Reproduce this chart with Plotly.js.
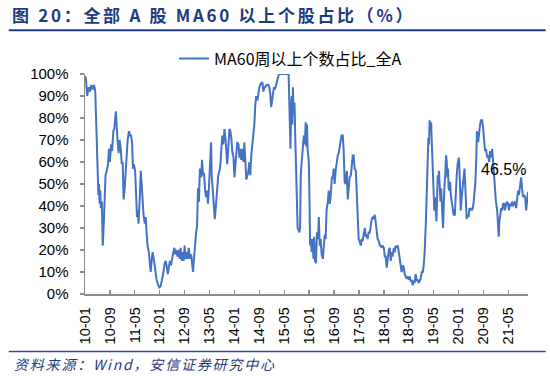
<!DOCTYPE html>
<html>
<head>
<meta charset="utf-8">
<script src="https://cdn.plot.ly/plotly-3.0.1.min.js"></script>
<style>
html,body{margin:0;padding:0;background:#fff;}
#chart{width:550px;height:376px;}
</style>
</head>
<body>
<div id="chart"></div>
<script>
var months = [
0,0.3,0.7,1.2,1.6,2.0,2.5,2.9,3.3,3.7,
4.1,4.3,4.5,4.7,4.9,5.1,5.4,5.7,6.0,6.3,
6.6,7.0,7.4,7.7,8.0,8.4,8.7,9.1,9.4,9.9,
10.2,10.5,10.8,11.1,11.5,11.8,12.1,12.4,12.7,13.1,
13.4,13.7,14.1,14.5,14.8,15.1,15.4,15.7,16.1,16.4,
16.7,17.0,17.2,17.6,17.9,18.2,18.5,18.8,19.2,19.5,
19.8,20.1,20.5,20.8,21.1,21.4,21.7,22.1,22.4,22.7,
23.0,23.5,23.9,24.3,24.7,25.2,25.6,25.9,26.2,26.6,
26.9,27.3,27.6,28.0,28.4,28.7,29.0,29.3,29.7,30.1,
30.4,30.7,31.1,31.4,31.7,32.0,32.3,32.7,33.0,33.3,
33.7,34.1,34.4,34.7,35.0,35.3,35.7,36.0,36.3,36.6,
36.9,37.3,37.6,37.9,38.2,38.6,38.9,39.2,39.5,39.8,
40.2,40.5,
40.7,41.2,41.7,42.1,42.5,42.8,43.2,43.5,43.8,44.1,
44.4,44.8,45.1,45.4,45.7,46.1,46.4,46.7,47.0,47.3,
47.7,48.0,48.3,48.6,48.9,49.3,49.6,49.9,50.2,50.5,
50.9,51.2,51.5,51.8,52.2,52.5,52.8,53.1,53.4,53.8,
54.1,54.4,54.7,55.0,55.4,55.7,56.0,56.3,56.7,57.0,
57.3,57.6,57.9,58.3,58.6,58.9,59.2,59.5,59.8,60.1,
60.4,60.7,61.0,61.4,61.7,62.0,62.3,62.9,63.7,64.8,
65.4,65.6,65.9,66.0,66.2,66.4,66.6,66.8,67.0,67.3,
67.6,67.9,68.1,68.3,68.6,68.9,69.1,69.3,69.6,69.9,
70.3,70.6,70.9,71.1,71.3,71.5,71.9,72.1,72.3,72.5,
72.8,73.0,73.4,73.6,73.9,74.2,74.5,74.9,75.1,75.4,
75.7,76.0,76.4,76.7,77.0,77.3,77.6,78.0,78.3,78.6,
78.9,79.3,79.6,79.9,80.2,80.5,80.9,81.2,81.5,
81.9,82.4,82.8,83.1,83.4,83.7,84.1,84.4,84.7,85.0,
85.4,85.7,86.0,86.3,86.6,87.0,87.3,87.6,87.9,88.2,
88.6,88.9,89.2,89.5,89.9,90.2,90.5,90.8,91.1,91.5,
91.8,92.1,92.4,92.7,93.1,93.4,93.7,94.0,94.4,94.7,
95.0,95.3,95.6,96.0,96.3,96.6,96.9,97.2,97.6,97.9,
98.2,98.5,98.8,99.2,99.5,99.8,100.1,100.5,100.8,101.1,
101.4,101.7,102.1,102.4,102.7,103.0,103.3,103.7,104.0,104.3,
104.6,105.0,105.3,105.6,105.9,106.2,106.6,106.9,107.2,107.5,
107.8,108.2,108.5,108.8,109.1,109.5,109.8,110.1,110.3,110.5,
110.7,110.9,111.2,111.4,111.6,111.8,112.0,112.2,112.4,112.7,
112.9,113.1,113.3,113.5,113.7,114.0,114.2,114.4,114.6,114.8,
115.0,115.2,115.4,115.7,116.0,116.2,116.4,116.6,116.8,117.1,
117.3,117.5,117.8,118.1,118.4,118.8,119.1,119.4,119.7,120.1,
120.3,120.5,120.7,121.0,121.2,121.6,121.9,122.1,122.3,122.6,
122.8,123.2,123.5,123.8,124.1,124.4,124.8,125.1,125.4,125.7,
125.9,126.3,126.6,126.9,
127.2,127.6,127.9,128.2,128.5,128.8,129.2,129.5,129.8,130.1,
130.4,130.8,131.1,131.4,131.7,132.0,132.4,132.7,132.9,133.1,
133.3,133.7,134.0,134.3,134.6,134.9,135.3,135.6,135.9,136.2,
136.5,136.9,137.2,137.5,137.8,138.2,138.5,138.8,139.1,139.4,
139.8,140.1,140.4,140.7,141.0,141.4,141.7,142.0,142.3
];

// share of stocks above weekly MA60 (%)
var pct = [
99,98,90,94,92,95,93,95,92,74,
59,45,50,41,47,39,42,22,31,44,
54,56,59,66,60,68,65,74,75,83,
72,69,64,70,66,59,60,43,47,59,
66,70,74,72,72,69,57,59,56,45,
35,38,32,44,56,50,41,36,32,35,
28,22,19,13,10,15,19,16,13,10,
6.5,4,3,3.5,6,10,14,15,13,9,
12,15,13,17,19,21,18,20,17,20,
16,21,15,19,15,22,16,19,16,21,
16,18,15,10,16,22,28,31,48,42,
57,53,61,54,55,47,44,47,41,48,
60,69,
54,44,34,41,47,54,56,59,66,72,
68,75,71,65,59,68,75,74,71,65,
62,53,59,65,69,68,62,66,61,66,
60,69,56,52,54,56,60,54,63,68,
72,77,86,90,88,92,94,95,96,96,
92,94,94,95,95,95,94,91,85,89,
92,94,93,95,97,99,100,100,100,100,
100,89,74,66,84,90,77,94,82,87,
68,54,41,30,29,28,31,54,60,66,
72,68,78,67,77,66,60,44,22,25,
19,25,16,26,15,14,28,25,35,22,
25,18,16,25,27,25,38,42,47,41,
44,53,53,57,50,56,62,63,64,
68,72,72,65,51,50,56,43,48,53,
54,60,63,63,57,56,47,35,25,24,
22,25,24,27,30,26,27,25,28,28,
32,34,35,34,36,32,28,25,24,22,
22,21,22,21,17,17,12,16,20,21,
15,19,17,21,19,22,21,22,19,17,
12,10,13,12,9,8,7,8,6.5,8,
6,6,4,6,5,9,6,6.5,5,6,
7,10,10,13,19,33,48,60,71,68,
79,74,78,69,60,50,42,38,44,37,
33,44,54,50,56,47,42,48,44,36,
30,41,47,54,63,60,53,57,48,47,
51,45,42,38,36,36,47,54,59,62,
56,45,38,44,47,50,57,51,41,34,
36,35,39,38,39,38,41,47,51,62,
74,69,75,77,
79,79,75,69,65,66,62,63,60,65,
62,66,59,53,47,42,38,33,26,33,
36,39,38,41,41,38,41,42,41,38,
41,40,42,40,41,42,39,44,47,45,
50,53,48,44,45,44,38,44,46.5
];

var tickMonths = [0,8,16,24,32,40,48,56,64,72,80,88,96,104,112,120,128,136];
var tickLabels = ['10-01','10-09','11-05','12-01','12-09','13-05','14-01','14-09','15-05',
                  '16-01','16-09','17-05','18-01','18-09','19-05','20-01','20-09','21-05'];
var yTickVals = [0,10,20,30,40,50,60,70,80,90,100];
var yTickText = ['0%','10%','20%','30%','40%','50%','60%','70%','80%','90%','100%'];

var seriesName = 'MA60周以上个数占比_全A';
var titleText = '图 20：全部 A 股 MA60 以上个股占比（%）';
var sourceText = '资料来源：Wind，安信证券研究中心';

var n = Math.min(months.length, pct.length);
var xs = months.slice(0, n), ys = pct.slice(0, n);
var lastX = xs[n-1], lastY = ys[n-1];

var latin = 'Liberation Sans, Arial, Noto Sans CJK SC, sans-serif';
var cjk = 'Noto Sans CJK SC, Liberation Sans, sans-serif';
var navy = '#1F3A80';

var data = [{
  type: 'scatter',
  mode: 'lines',
  x: xs,
  y: ys,
  name: seriesName,
  line: {color: '#4472C4', width: 2}
}];

var layout = {
  width: 550,
  height: 376,
  margin: {l: 85, r: 22, t: 74, b: 82, pad: 0},
  paper_bgcolor: '#ffffff',
  plot_bgcolor: '#ffffff',
  showlegend: true,
  title: {
    text: '<b>' + titleText + '</b>',
    font: {family: cjk, size: 17, color: navy},
    xref: 'container', yref: 'container',
    x: 12/550, xanchor: 'left',
    y: 1 - 16/376, yanchor: 'middle'
  },
  legend: {
    orientation: 'h',
    x: 0.201, xanchor: 'left',
    y: 1.07, yanchor: 'middle',
    font: {family: cjk, size: 16, color: '#000'},
    bgcolor: 'rgba(0,0,0,0)',
    itemwidth: 30
  },
  xaxis: {
    type: 'linear',
    range: [0, lastX],
    tickmode: 'array',
    tickvals: tickMonths,
    ticktext: tickLabels,
    tickangle: -90,
    ticks: 'inside',
    ticklen: 4,
    tickcolor: '#8c8c8c',
    tickwidth: 1.3,
    showline: true,
    linecolor: '#8c8c8c',
    linewidth: 1.5,
    showgrid: false,
    zeroline: false,
    tickfont: {family: latin, size: 14.5, color: '#000'},
    ticklabelstandoff: 6
  },
  yaxis: {
    range: [0, 100],
    tickmode: 'array',
    tickvals: yTickVals,
    ticktext: yTickText,
    ticks: 'outside',
    ticklen: 4,
    tickcolor: '#8c8c8c',
    tickwidth: 1.3,
    showline: true,
    linecolor: '#8c8c8c',
    linewidth: 1.5,
    showgrid: false,
    zeroline: false,
    tickfont: {family: latin, size: 15, color: '#000'},
    ticklabelstandoff: 8
  },
  shapes: [
    {type: 'line', xref: 'paper', yref: 'paper', x0: -0.172, x1: 1.04, y0: 1.199, y1: 1.199,
     line: {color: '#1F3A8A', width: 2}},
    {type: 'line', xref: 'paper', yref: 'paper', x0: -0.172, x1: 1.04, y0: -0.261, y1: -0.261,
     line: {color: '#2A4BA0', width: 1.5}}
  ],
  annotations: [
    {
      x: lastX, y: 56.4, xref: 'x', yref: 'y',
      text: lastY.toFixed(1) + '%',
      showarrow: false, xanchor: 'right', yanchor: 'middle',
      font: {family: latin, size: 16, color: '#000'}
    },
    {
      x: -0.165, y: -0.317, xref: 'paper', yref: 'paper',
      text: '<i>' + sourceText + '</i>',
      showarrow: false, xanchor: 'left', yanchor: 'middle', align: 'left',
      font: {family: cjk, size: 14, color: navy}
    }
  ]
};

Plotly.newPlot('chart', data, layout, {staticPlot: true, displayModeBar: false}).then(function (gd) {
  var t = gd.querySelector('.gtitle');
  if (t) t.style.letterSpacing = '2.7px';
  var ann = gd.querySelectorAll('.annotation-text');
  if (ann.length > 1) {
    var s = ann[1];
    var box = s.getBBox();
    var left = box.x;
    s.style.letterSpacing = '1.8px';
    s.setAttribute('text-anchor', 'start');
    s.setAttribute('x', left);
    s.querySelectorAll('tspan[x]').forEach(function (ts) { ts.setAttribute('x', left); });
  }
});
</script>
</body>
</html>
